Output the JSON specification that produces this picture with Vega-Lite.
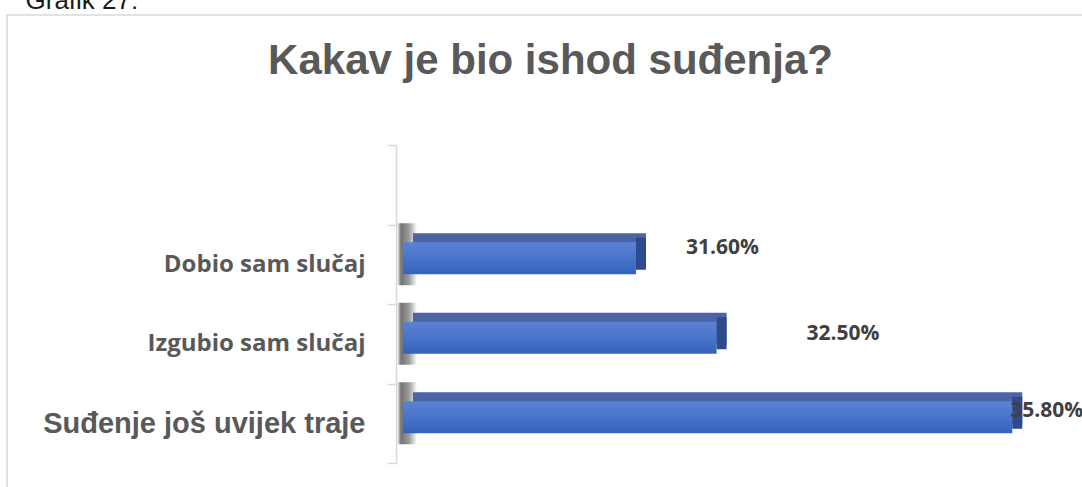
{
  "$schema": "https://vega.github.io/schema/vega-lite/v6.json",
  "width": 1086,
  "height": 480,
  "autosize": {"type": "none"},
  "padding": {"left": 7, "top": 15, "right": 0, "bottom": 0},
  "background": "white",
  "config": {"view": {"stroke": "#d9d9d9", "strokeWidth": 1.5}},
  "data": {
    "values": [
      {"category": "Dobio sam slučaj", "value": 31.6, "label": "31.60%"},
      {"category": "Izgubio sam slučaj", "value": 32.5, "label": "32.50%"},
      {"category": "Suđenje još uvijek traje", "value": 35.8, "label": "35.80%"}
    ]
  },
  "encoding": {
    "y": {
      "field": "category",
      "type": "nominal",
      "sort": null,
      "scale": {
        "domain": [" ", "Dobio sam slučaj", "Izgubio sam slučaj", "Suđenje još uvijek traje"],
        "range": [130, 448],
        "paddingInner": 0,
        "paddingOuter": 0
      },
      "axis": {
        "orient": "left",
        "offset": -389,
        "title": "Grafik 27:",
        "titleAngle": 0,
        "titleAlign": "left",
        "titleBaseline": "alphabetic",
        "titleX": -371,
        "titleY": -7,
        "titleFont": "Liberation Sans",
        "titleFontSize": 26,
        "titleFontWeight": "normal",
        "titleColor": "#1a1a1a",
        "domainColor": "#d9d9d9",
        "domainWidth": 1.5,
        "tickColor": "#d9d9d9",
        "tickWidth": 1.5,
        "tickSize": 9,
        "tickBand": "extent",
        "labelPadding": 22,
        "labelFont": {"expr": "datum.value === 'Suđenje još uvijek traje' ? 'Liberation Sans' : 'Open Sans'"},
        "labelFontSize": {"expr": "datum.value === 'Suđenje još uvijek traje' ? 29 : 24"},
        "labelFontWeight": "bold",
        "labelColor": "#595959",
        "labelLimit": 400,
        "labelBaseline": "middle"
      }
    },
    "x": {
      "field": "value",
      "type": "quantitative",
      "scale": {"domain": [29, 36], "range": [396, 1023.2], "zero": false, "nice": false},
      "axis": {
        "orient": "top",
        "labels": false,
        "ticks": false,
        "domain": false,
        "grid": false,
        "title": "Kakav je bio ishod suđenja?",
        "titleFont": "Liberation Sans",
        "titleFontSize": 42,
        "titleFontWeight": "bold",
        "titleColor": "#595959",
        "titleAlign": "center",
        "titleAnchor": "middle",
        "titleBaseline": "alphabetic",
        "titleX": 543,
        "titleY": 58
      }
    }
  },
  "layer": [
    {
      "mark": {
        "type": "bar",
        "height": 62,
        "yOffset": -10,
        "xOffset": -6,
        "x2Offset": 14,
        "opacity": 0.85,
        "color": {
          "gradient": "linear", "x1": 0, "y1": 0, "x2": 1, "y2": 0,
          "stops": [
            {"offset": 0, "color": "#ffffff"},
            {"offset": 0.2, "color": "#5a5a5a"},
            {"offset": 0.6, "color": "#8a8a8a"},
            {"offset": 1, "color": "#ffffff"}
          ]
        }
      },
      "encoding": {"x": {"datum": 29}, "x2": {"datum": 29}}
    },
    {
      "mark": {"type": "bar", "height": 32, "yOffset": -15, "xOffset": 10, "x2Offset": 10, "color": "#4b64a4"},
      "encoding": {"x2": {"datum": 29}}
    },
    {
      "mark": {"type": "bar", "height": 32, "yOffset": -10.5, "x2Offset": 10, "color": "#2d4a8c"},
      "encoding": {"x2": {"field": "value"}}
    },
    {
      "mark": {
        "type": "bar",
        "height": 32,
        "yOffset": -6,
        "color": {
          "gradient": "linear", "x1": 0, "y1": 0, "x2": 0, "y2": 1,
          "stops": [
            {"offset": 0, "color": "#5b82d3"},
            {"offset": 0.5, "color": "#4a74cb"},
            {"offset": 1, "color": "#3262bd"}
          ]
        }
      },
      "encoding": {"x2": {"datum": 29}}
    },
    {
      "transform": [{"filter": "datum.category === 'Dobio sam slučaj'"}],
      "mark": {"type": "text", "align": "left", "baseline": "middle", "dx": 50, "dy": -16, "font": "Open Sans", "fontSize": 21, "fontWeight": "bold", "color": "#404040"},
      "encoding": {"text": {"field": "label"}}
    },
    {
      "transform": [{"filter": "datum.category === 'Izgubio sam slučaj'"}],
      "mark": {"type": "text", "align": "left", "baseline": "middle", "dx": 90, "dy": -10, "font": "Open Sans", "fontSize": 21, "fontWeight": "bold", "color": "#404040"},
      "encoding": {"text": {"field": "label"}}
    },
    {
      "transform": [{"filter": "datum.category === 'Suđenje još uvijek traje'"}],
      "mark": {"type": "text", "align": "left", "baseline": "middle", "dx": -2, "dy": -12, "font": "Open Sans", "fontSize": 21, "fontWeight": "bold", "color": "#404040"},
      "encoding": {"text": {"field": "label"}}
    }
  ]
}
